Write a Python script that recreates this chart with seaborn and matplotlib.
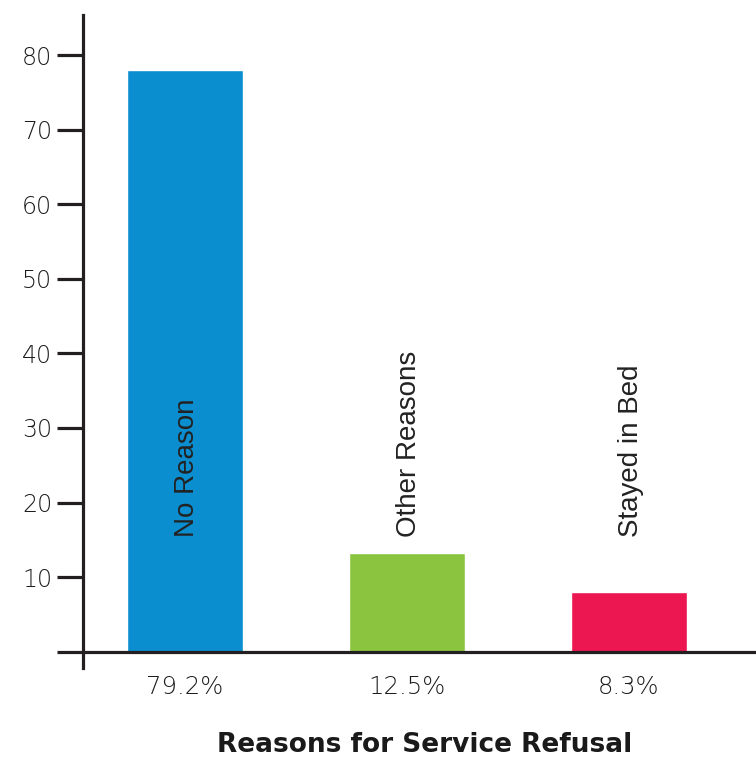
import matplotlib
matplotlib.use("Agg")
import matplotlib.pyplot as plt
from matplotlib import font_manager
import seaborn as sns
import pandas as pd

categories = ["No Reason", "Other Reasons", "Stayed in Bed"]
values = [78.0, 13.2, 8.0]
pct_labels = ["79.2%", "12.5%", "8.3%"]
colors = ["#0A8ED0", "#8BC53F", "#EC1650"]
yticks = [0, 10, 20, 30, 40, 50, 60, 70, 80]
ytick_labels = ["", "10", "20", "30", "40", "50", "60", "70", "80"]
xlabel = "Reasons for Service Refusal"
label_base = 15.4

sns.set_theme(style="white")
names = {f.name for f in font_manager.fontManager.ttflist}
narrow = "Liberation Sans Narrow" if "Liberation Sans Narrow" in names else "Liberation Sans"
plt.rcParams["font.family"] = ["DejaVu Sans"]

df = pd.DataFrame({"cat": categories, "val": values})

fig = plt.figure(figsize=(7.56, 7.58), dpi=100)
ax = fig.add_axes([83 / 756, (758 - 668) / 758, 673 / 756, 653 / 758])
sns.barplot(data=df, x="cat", y="val", hue="cat", palette=colors, legend=False,
            width=0.52, saturation=1, ax=ax)

ax.set_xlim(-0.459, 2.572)
ax.set_ylim(-2.2, 85.4)
ink = "#231F20"
for s in ["top", "right", "bottom"]:
    ax.spines[s].set_visible(False)
ax.spines["left"].set_color(ink)
ax.spines["left"].set_linewidth(2.3)
ax.axhline(0, color=ink, lw=2.3, zorder=5)

ax.set_yticks(yticks)
ax.set_yticklabels(ytick_labels, fontsize=17, color="#1c1c1c", fontweight="light")
ax.tick_params(axis="y", length=18.7, width=2.3, color=ink, pad=3.5, left=True)
ax.set_xticks(range(len(categories)))
ax.set_xticklabels(pct_labels, fontsize=17.5, color="#1c1c1c", fontweight="light")
ax.tick_params(axis="x", length=0, pad=5)
ax.set_xlabel("")
ax.set_ylabel("")

for i, c in enumerate(categories):
    ax.text(i + 0.01, label_base, c, rotation=90, ha="center", va="bottom",
            fontsize=20, family=narrow, color="#222222")

fig.text(425 / 756, 13 / 758, xlabel, ha="center", va="center",
         fontsize=19, fontweight="bold", color="#1a1a1a")

fig.savefig("out.png", dpi=100)
